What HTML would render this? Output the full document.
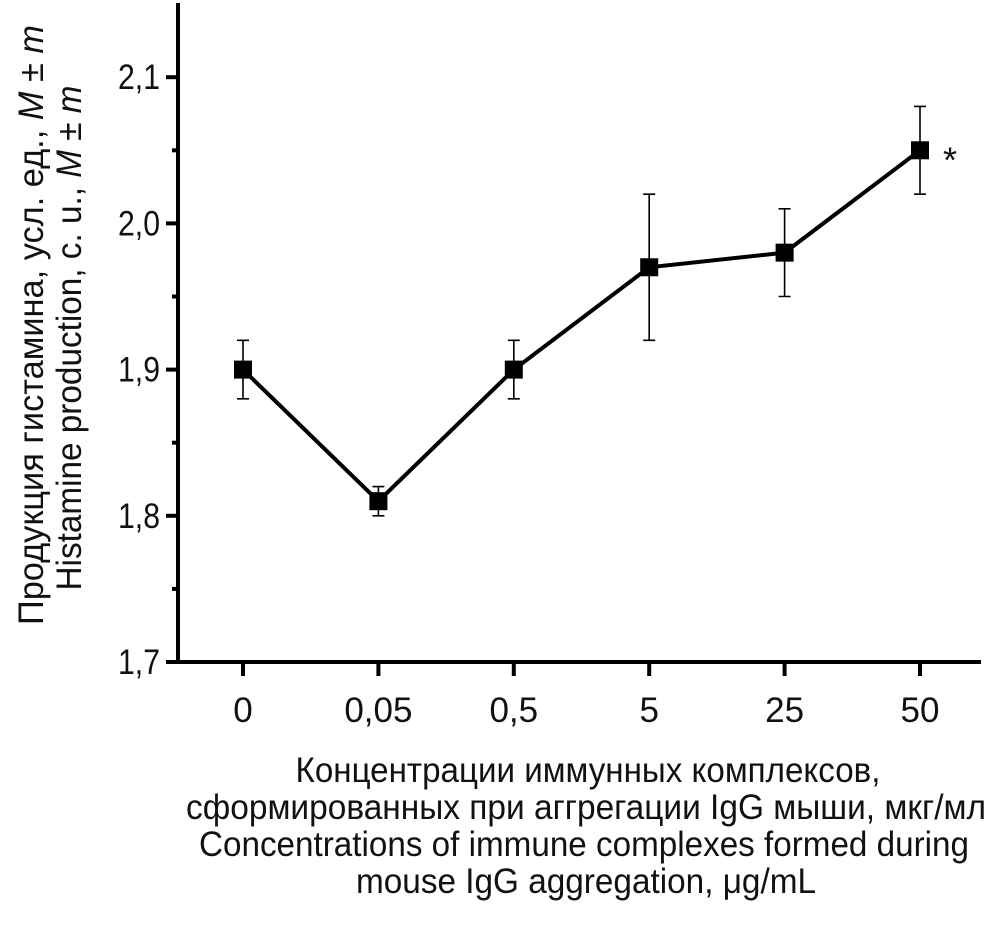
<!DOCTYPE html>
<html><head><meta charset="utf-8"><style>
body{margin:0;background:#fff}
svg text{font-family:"Liberation Sans",sans-serif;fill:#111}
</style></head><body>
<svg id="chart" width="991" height="928" viewBox="0 0 991 928" xmlns="http://www.w3.org/2000/svg">
<g id="axes"></g>
<g id="series"></g>
<text transform="translate(43,325) rotate(-90)" text-anchor="middle" font-size="35" textLength="600" lengthAdjust="spacingAndGlyphs">Продукция гистамина, усл. ед., <tspan font-style="italic">M</tspan> ± <tspan font-style="italic">m</tspan></text>
<text transform="translate(81,338) rotate(-90)" text-anchor="middle" font-size="35" textLength="505" lengthAdjust="spacingAndGlyphs">Histamine production, c. u., <tspan font-style="italic">M</tspan> ± <tspan font-style="italic">m</tspan></text>
<g font-size="35" text-anchor="middle">
<text x="588" y="782" textLength="585" lengthAdjust="spacingAndGlyphs">Концентрации иммунных комплексов,</text>
<text x="586" y="819" textLength="800" lengthAdjust="spacingAndGlyphs">сформированных при аггрегации IgG мыши, мкг/мл</text>
<text x="584" y="856" textLength="770" lengthAdjust="spacingAndGlyphs">Concentrations of immune complexes formed during</text>
<text x="586" y="893" textLength="460" lengthAdjust="spacingAndGlyphs">mouse IgG aggregation, μg/mL</text>
</g>
</svg>
<script>
const categories=["0","0,05","0,5","5","25","50"];
const means=[1.90,1.81,1.90,1.97,1.98,2.05];
const errors=[0.02,0.01,0.02,0.05,0.03,0.03];
const yTicks=[1.7,1.8,1.9,2.0,2.1];
const yTickLabels=["1,7","1,8","1,9","2,0","2,1"];
const NS="http://www.w3.org/2000/svg";
const y=v=>662-(v-1.7)*1462;
const x=i=>243+i*135.4;
function mk(tag,attrs,parent){const e=document.createElementNS(NS,tag);for(const k in attrs)e.setAttribute(k,attrs[k]);parent.appendChild(e);return e;}
const ax=document.getElementById('axes'),se=document.getElementById('series');
let l=mk('line',{x1:178,y1:3,x2:178,y2:664,stroke:'#000','stroke-width':4},ax);


l=mk('line',{x1:176,y1:662,x2:981,y2:662,stroke:'#000','stroke-width':4},ax);


yTicks.forEach((v,i)=>{
 let t=mk('line',{x1:166,y1:y(v),x2:178,y2:y(v),stroke:'#000','stroke-width':4},ax);
 
 
 let tx=mk('text',{x:160,y:y(v)+12,'text-anchor':'end','font-size':35,textLength:42,lengthAdjust:'spacingAndGlyphs'},ax);
 tx.textContent=yTickLabels[i];
 
 
 if(i<yTicks.length-1){
  let m=mk('line',{x1:172,y1:y(v+0.05),x2:178,y2:y(v+0.05),stroke:'#000','stroke-width':4},ax);
  
  
 }
});
categories.forEach((c,i)=>{
 let t=mk('line',{x1:x(i),y1:662,x2:x(i),y2:676,stroke:'#000','stroke-width':4},ax);
 
 
 let tx=mk('text',{x:x(i),y:722,'text-anchor':'middle','font-size':35},ax);
 tx.textContent=c;
 
 
});
let pts=means.map((v,i)=>x(i)+','+y(v)).join(' ');
let pl=mk('polyline',{points:pts,fill:'none',stroke:'#000','stroke-width':4},se);


means.forEach((v,i)=>{
 const cx=x(i),t=y(v+errors[i]),b=y(v-errors[i]);
 let e=mk('path',{d:`M${cx},${t}V${b}M${cx-6},${t}H${cx+6}M${cx-6},${b}H${cx+6}`,stroke:'#000','stroke-width':1.6,fill:'none'},se);
 
 
 let r=mk('rect',{x:cx-9,y:y(v)-9,width:18,height:18,fill:'#000'},se);
 
 
});
let st=mk('text',{x:x(5)+23,y:y(means[5])+22,'font-size':36},se);
st.textContent='*';


</script>
</body></html>
